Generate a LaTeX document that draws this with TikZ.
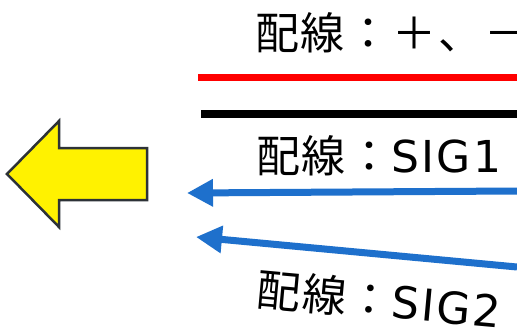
\documentclass[tikz,border=0pt]{standalone}
\usepackage{fontspec}
\newfontfamily\jp[LetterSpace=4]{Noto Sans CJK JP}
\newfontfamily\dv[LetterSpace=5]{DejaVu Sans}
\usetikzlibrary{arrows.meta}
\definecolor{sigblue}{RGB}{30,112,204}
\definecolor{edgegray}{RGB}{45,50,55}
\tikzset{
  lbl/.style={anchor=west,inner sep=0pt,font=\jp\fontsize{44}{44}\selectfont},
  sigarrow/.style={draw=sigblue,line width=7pt,-{Triangle[length=26pt,width=26pt]}},
}
\begin{document}
\begin{tikzpicture}[x=1pt,y=-1pt]
\useasboundingbox (0,0) rectangle (517,332);
\fill[white] (0,0) rectangle (517,332);
% yellow arrow
\draw[fill=yellow,draw=edgegray,line width=2.5pt,line join=miter]
  (7,174) -- (59,121) -- (59,148) -- (147,148) -- (147,200) -- (59,200) -- (59,227) -- cycle;
% texts
\node[lbl] (t1) at (255,33) {配線：＋、－};
\node[lbl] (t2) at (256,156) {配線：{\dv SIG1}};
\node[lbl,rotate=-5.2] (t3) at (257,289) {配線：{\dv SIG2}};
% wires
\coordinate (r1) at (198,77); \coordinate (r2) at (517,77);
\coordinate (b1) at (201,114); \coordinate (b2) at (517,114);
\draw[red,line width=7pt] (r1) -- (r2);
\draw[black,line width=8pt] (b1) -- (b2);
\coordinate (s1a) at (517,191); \coordinate (s1b) at (187,193);
\coordinate (s2a) at (517,267); \coordinate (s2b) at (196,237);
\draw[sigarrow] (s1a) -- (s1b);
\draw[sigarrow] (s2a) -- (s2b);
\end{tikzpicture}
\end{document}
